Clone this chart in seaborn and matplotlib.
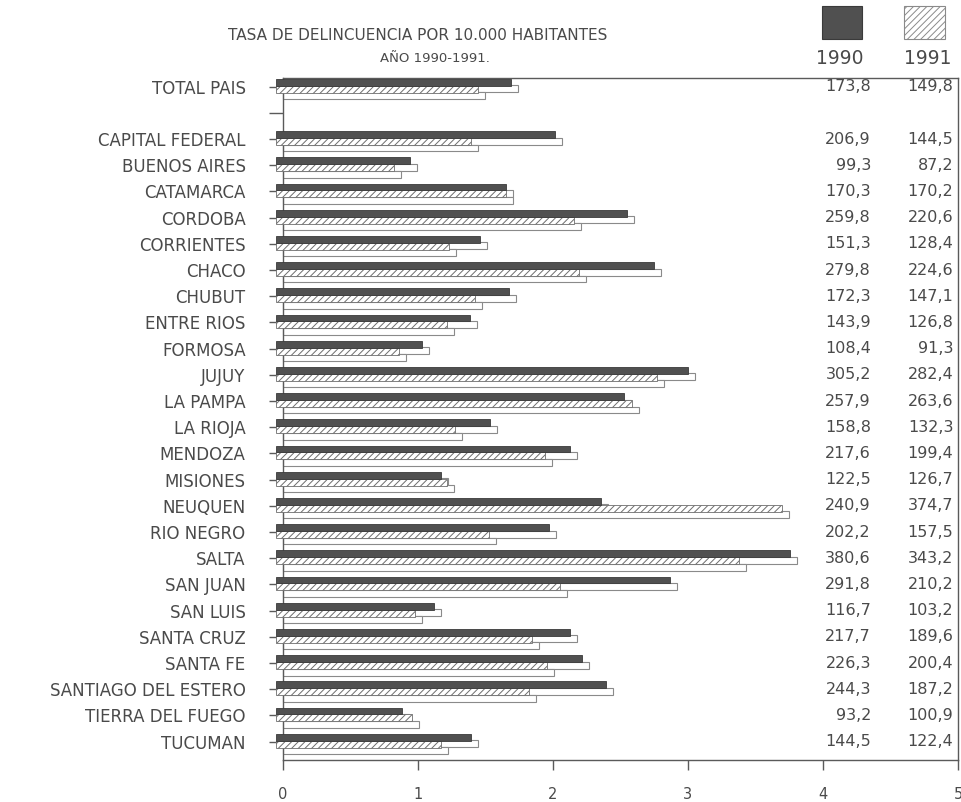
import numpy as np
import pandas as pd
import matplotlib
matplotlib.use("Agg")
import matplotlib.pyplot as plt
import seaborn as sns
from matplotlib import transforms
from matplotlib.patches import Rectangle

# ---------------- data ----------------
regions = ["TOTAL PAIS", "CAPITAL FEDERAL", "BUENOS AIRES", "CATAMARCA", "CORDOBA",
           "CORRIENTES", "CHACO", "CHUBUT", "ENTRE RIOS", "FORMOSA", "JUJUY",
           "LA PAMPA", "LA RIOJA", "MENDOZA", "MISIONES", "NEUQUEN", "RIO NEGRO",
           "SALTA", "SAN JUAN", "SAN LUIS", "SANTA CRUZ", "SANTA FE",
           "SANTIAGO DEL ESTERO", "TIERRA DEL FUEGO", "TUCUMAN"]
rate_1990 = [173.8, 206.9, 99.3, 170.3, 259.8, 151.3, 279.8, 172.3, 143.9, 108.4,
             305.2, 257.9, 158.8, 217.6, 122.5, 240.9, 202.2, 380.6, 291.8, 116.7,
             217.7, 226.3, 244.3, 93.2, 144.5]
rate_1991 = [149.8, 144.5, 87.2, 170.2, 220.6, 128.4, 224.6, 147.1, 126.8, 91.3,
             282.4, 263.6, 132.3, 199.4, 126.7, 374.7, 157.5, 343.2, 210.2, 103.2,
             189.6, 200.4, 187.2, 100.9, 122.4]
years = ["1990", "1991"]
x_ticks = [0, 1, 2, 3, 4, 5]
title_1 = "TASA DE DELINCUENCIA POR 10.000 HABITANTES"
title_2 = "AÑO 1990-1991."

# blank slot after the national total
order = [regions[0], " "] + regions[1:]

df = pd.DataFrame({
    "region": regions * 2,
    "year": [years[0]] * len(regions) + [years[1]] * len(regions),
    "value": rate_1990 + rate_1991,
})
df["scaled"] = df["value"] / 100.0

# ---------------- figure ----------------
W, H, DPI = 961, 802, 100
fig = plt.figure(figsize=(W / DPI, H / DPI), dpi=DPI)
plt.rcParams["hatch.linewidth"] = 0.7
plt.rcParams["font.family"] = ["DejaVu Sans"]

left, right, top, bottom = 283, 958, 78, 760
ax = fig.add_axes([left / W, 1 - bottom / H, (right - left) / W, (bottom - top) / H])

TXT = "#4a4a4a"
LINE = "#5a5a5a"
BW = 0.53

# shadow / depth slabs (drawn first, behind)
sns.barplot(data=df, y="region", x="scaled", hue="year", order=order,
            hue_order=years, orient="h", width=BW, palette=["white", "white"],
            saturation=1, errorbar=None, legend=False, ax=ax,
            edgecolor="#8a8a8a", linewidth=0.8)
n_shadow = len(ax.containers)
# front faces
sns.barplot(data=df, y="region", x="scaled", hue="year", order=order,
            hue_order=years, orient="h", width=BW, palette=["#505050", "white"],
            saturation=1, errorbar=None, legend=False, ax=ax,
            edgecolor="#6a6a6a", linewidth=0.6)

px = 1.0 / DPI
shadow_tr = ax.transData + transforms.ScaledTranslation(0 * px, -5.5 * px, fig.dpi_scale_trans)
face_tr = ax.transData + transforms.ScaledTranslation(-7 * px, 1 * px, fig.dpi_scale_trans)

for ci, cont in enumerate(ax.containers):
    for p in cont.patches:
        p.set_clip_on(False)
        if ci < n_shadow:
            p.set_transform(shadow_tr)
            p.set_zorder(1)
        else:
            p.set_transform(face_tr)
            if ci == n_shadow:
                p.set_facecolor("#505050")
                p.set_edgecolor("#3a3a3a")
                p.set_zorder(4)
            else:
                p.set_facecolor("white")
                p.set_edgecolor("#6e6e6e")
                p.set_hatch("/////")
                p.set_zorder(3)

# axes styling
ax.set_xlim(0, 5)
ax.set_ylim(25.70, -0.33)
ax.set_xticks(x_ticks)
ax.set_xticklabels([str(t) for t in x_ticks])
ax.set_xlabel("")
ax.set_ylabel("")
for s in ax.spines.values():
    s.set_visible(True)
    s.set_color(LINE)
    s.set_linewidth(1.0)
ax.tick_params(axis="x", direction="out", length=7.5, width=1, color=LINE,
               pad=12, labelsize=10.5, labelcolor=TXT)
ax.tick_params(axis="y", direction="out", length=10, width=1, color=LINE,
               pad=17, labelsize=12, labelcolor=TXT)
ax.grid(False)
ax.set_facecolor("white")

# value columns on the right
blend = transforms.blended_transform_factory(ax.transAxes, ax.transData)
for i, reg in enumerate(regions):
    ypos = order.index(reg)
    ax.text(0.871, ypos, f"{rate_1990[i]:.1f}".replace(".", ","), transform=blend,
            ha="right", va="center", fontsize=11.5, color=TXT, zorder=6)
    ax.text(0.993, ypos, f"{rate_1991[i]:.1f}".replace(".", ","), transform=blend,
            ha="right", va="center", fontsize=11.5, color=TXT, zorder=6)

# header / legend
fig.text(418 / W, 1 - 35 / H, title_1, ha="center", va="center", fontsize=11, color=TXT)
fig.text(435 / W, 1 - 58 / H, title_2, ha="center", va="center", fontsize=9.5, color=TXT)
fig.text(840 / W, 1 - 58 / H, years[0], ha="center", va="center", fontsize=13.5, color=TXT)
fig.text(928 / W, 1 - 58 / H, years[1], ha="center", va="center", fontsize=13.5, color=TXT)
fig.add_artist(Rectangle((822 / W, 1 - 39 / H), 40 / W, 33 / H, transform=fig.transFigure,
                         facecolor="#505050", edgecolor="#3a3a3a", linewidth=0.8))
fig.add_artist(Rectangle((904 / W, 1 - 39 / H), 41 / W, 33 / H, transform=fig.transFigure,
                         facecolor="white", edgecolor="#8a8a8a", hatch="/////", linewidth=0.8))

fig.savefig("out.png", dpi=DPI, facecolor="white")
